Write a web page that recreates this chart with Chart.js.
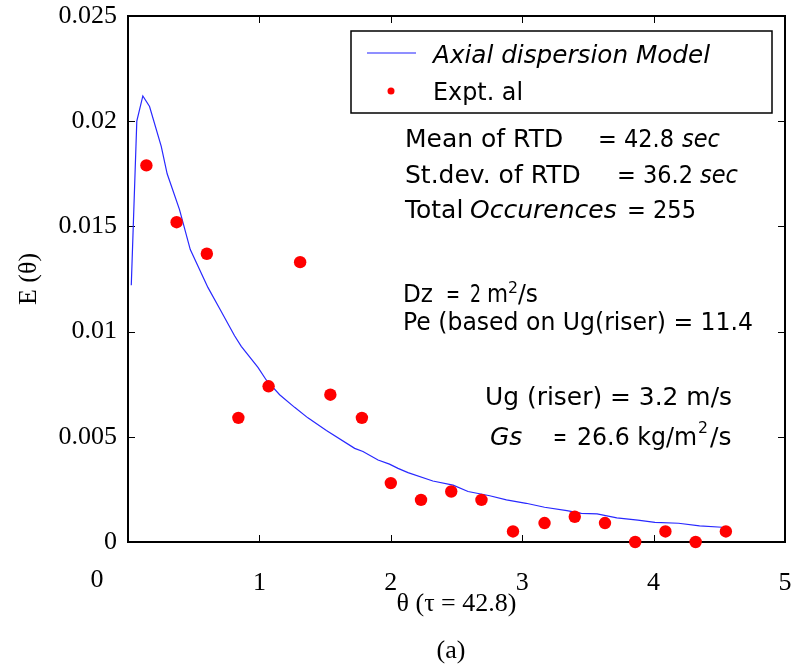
<!DOCTYPE html>
<html>
<head>
<meta charset="utf-8">
<script src="https://cdn.jsdelivr.net/npm/chart.js@4.4.1/dist/chart.umd.min.js"></script>
<style>
  html, body { margin: 0; padding: 0; background: #fff; }
  #wrap { width: 796px; height: 669px; }
</style>
</head>
<body>
<div id="wrap"><canvas id="c" width="796" height="669"></canvas></div>
<script>
// Axial dispersion model curve, E(theta)
const modelTheta = [0.025, 0.067, 0.113, 0.164, 0.253, 0.298, 0.392, 0.474, 0.608, 0.697, 0.811, 0.862,
  0.989, 1.052, 1.154, 1.268, 1.369, 1.51, 1.725, 1.788, 1.903, 1.99, 2.055, 2.131, 2.32, 2.474,
  2.588, 2.753, 2.88, 3.03, 3.17, 3.34, 3.45, 3.57, 3.72, 3.88, 4.01, 4.19, 4.35, 4.52];
const modelE = [0.0122, 0.0200, 0.0212, 0.0207, 0.0188, 0.0175, 0.0158, 0.0139, 0.0121, 0.0111, 0.0098, 0.0093,
  0.0083, 0.0077, 0.0070, 0.0064, 0.0059, 0.0053, 0.00445, 0.0043, 0.0039, 0.0037, 0.0035, 0.0033, 0.0029, 0.0027,
  0.0024, 0.0022, 0.0020, 0.00184, 0.00165, 0.00149, 0.00136, 0.00134, 0.00115, 0.00104, 0.00093, 0.00089, 0.00077, 0.0007];

// Experimental RTD points
const exptTheta = [0.14, 0.37, 0.60, 0.84, 1.07, 1.31, 1.54, 1.78, 2.00, 2.23, 2.46, 2.69, 2.93, 3.17, 3.40, 3.63, 3.86, 4.09, 4.32, 4.55];
const exptE = [0.0179, 0.0152, 0.0137, 0.0059, 0.0074, 0.0133, 0.0070, 0.0059, 0.0028, 0.0020, 0.0024, 0.0020,
  0.0005, 0.0009, 0.0012, 0.0009, 0.0000, 0.0005, 0.0000, 0.0005];

const xTickLabels = ['0', '1', '2', '3', '4', '5'];
const yTickLabels = ['0', '0.005', '0.01', '0.015', '0.02', '0.025'];

const seriesNames = ['Axial dispersion Model', 'Expt. al'];

const SERIF = '"Liberation Serif", "Times New Roman", serif';
const SANS = '"DejaVu Sans", sans-serif';

function seg(ctx, text, x, y, maxW, opt = {}) {
  ctx.font = (opt.italic ? 'italic ' : '') + (opt.size || 25) + 'px ' + SANS;
  ctx.textAlign = 'left';
  ctx.textBaseline = 'alphabetic';
  ctx.fillStyle = '#000';
  if (maxW) ctx.fillText(text, x, y, maxW); else ctx.fillText(text, x, y);
}

const frame = {
  id: 'frame',
  beforeDatasetsDraw(chart) {
    const { ctx, chartArea: a, scales: { x, y } } = chart;
    ctx.save();
    ctx.strokeStyle = '#000';
    ctx.lineWidth = 1;
    ctx.beginPath();
    [1, 2, 3, 4].forEach(v => {
      const px = Math.round(x.getPixelForValue(v)) + 0.5;
      ctx.moveTo(px, a.bottom); ctx.lineTo(px, a.bottom - 7);
      ctx.moveTo(px, a.top); ctx.lineTo(px, a.top + 7);
    });
    [0.005, 0.01, 0.015, 0.02].forEach(v => {
      const py = Math.round(y.getPixelForValue(v)) + 0.5;
      ctx.moveTo(a.left, py); ctx.lineTo(a.left + 7, py);
      ctx.moveTo(a.right, py); ctx.lineTo(a.right - 7, py);
    });
    ctx.stroke();
    ctx.lineWidth = 2;
    ctx.strokeRect(a.left, a.top, a.right - a.left, a.bottom - a.top);
    ctx.restore();
  },
  afterDraw(chart) {
    const { ctx, scales: { x } } = chart;
    ctx.save();
    // x tick label at the origin
    ctx.font = '26px ' + SERIF;
    ctx.fillStyle = '#000';
    ctx.textAlign = 'center';
    ctx.textBaseline = 'middle';
    ctx.fillText(xTickLabels[0], x.getPixelForValue(0) - 31, 580);
    // panel caption
    ctx.fillText('(a)', 451, 651);

    // legend box
    ctx.lineWidth = 1.5;
    ctx.strokeStyle = '#000';
    ctx.strokeRect(351, 31, 421, 82);
    ctx.strokeStyle = '#6a6aff';
    ctx.lineWidth = 1.5;
    ctx.beginPath(); ctx.moveTo(367, 53); ctx.lineTo(416, 53); ctx.stroke();
    ctx.fillStyle = '#ff0000';
    ctx.beginPath(); ctx.arc(391, 91, 3.5, 0, Math.PI * 2); ctx.fill();
    seg(ctx, seriesNames[0], 433, 63, 277, { italic: true });
    seg(ctx, seriesNames[1], 433, 100, 90);

    // run statistics
    seg(ctx, 'Mean of RTD', 405, 147, 159);
    seg(ctx, '= 42.8', 598, 147, 76);
    seg(ctx, 'sec', 682, 147, 38, { italic: true });
    seg(ctx, 'St.dev. of RTD', 405, 183, 176);
    seg(ctx, '= 36.2', 617, 183, 76);
    seg(ctx, 'sec', 700, 183, 38, { italic: true });
    seg(ctx, 'Total', 405, 218, 60);
    seg(ctx, 'Occurences', 470, 218, 148, { italic: true });
    seg(ctx, '= 255', 627, 218, 69);

    // model parameters
    seg(ctx, 'Dz', 403, 302, 30);
    seg(ctx, '=', 446, 302, 14);
    seg(ctx, '2', 470, 302, 11);
    seg(ctx, 'm', 487, 302, 21);
    seg(ctx, '2', 508, 293, 10, { size: 16 });
    seg(ctx, '/s', 518, 302, 20);
    seg(ctx, 'Pe (based on Ug(riser) = 11.4', 403, 330, 350);

    seg(ctx, 'Ug (riser) = 3.2 m/s', 485, 405, 247);
    seg(ctx, 'Gs', 490, 445, 33, { italic: true });
    seg(ctx, '=', 553, 445, 14);
    seg(ctx, '26.6 kg/m', 577, 445, 120);
    seg(ctx, '2', 698, 433, 10, { size: 16 });
    seg(ctx, '/s', 710, 445, 28);
    ctx.restore();
  }
};

new Chart(document.getElementById('c'), {
  type: 'scatter',
  data: {
    datasets: [
      {
        label: seriesNames[0],
        data: modelTheta.map((t, i) => ({ x: t, y: modelE[i] })),
        showLine: true,
        borderColor: 'rgb(40,40,255)',
        borderWidth: 1.2,
        pointRadius: 0,
        tension: 0,
        clip: false,
        order: 2
      },
      {
        label: seriesNames[1],
        data: exptTheta.map((t, i) => ({ x: t, y: exptE[i] })),
        showLine: false,
        backgroundColor: '#ff0000',
        borderWidth: 0,
        pointRadius: 6.2,
        pointHoverRadius: 6.2,
        clip: false,
        order: 1
      }
    ]
  },
  options: {
    responsive: false,
    animation: false,
    devicePixelRatio: 1,
    layout: { padding: { left: 0, right: 11, top: 16, bottom: 0 } },
    plugins: { legend: { display: false }, tooltip: { enabled: false } },
    scales: {
      x: {
        type: 'linear', min: 0, max: 5,
        grid: { display: false, drawTicks: false },
        border: { display: false },
        afterFit(s) { s.height = 127; s.paddingLeft = 0; s.paddingRight = 0; },
        ticks: {
          stepSize: 1, padding: 26, color: '#000', maxRotation: 0,
          font: { family: SERIF, size: 26 },
          callback: v => (v === 0 ? '' : xTickLabels[Math.round(v)])
        },
        title: {
          display: true, text: 'θ (τ = 42.8)', color: '#000',
          font: { family: SERIF, size: 26 }, padding: { top: 0, bottom: 49 }
        }
      },
      y: {
        type: 'linear', min: 0, max: 0.025,
        grid: { display: false, drawTicks: false },
        border: { display: false },
        afterFit(s) { s.width = 128; s.paddingTop = 0; s.paddingBottom = 0; },
        ticks: {
          stepSize: 0.005, padding: 11, color: '#000',
          font: { family: SERIF, size: 26 },
          callback: v => yTickLabels[Math.round(v * 200)]
        },
        title: {
          display: true, text: 'E (θ)', color: '#000',
          font: { family: SERIF, size: 26 }, padding: { top: 14, bottom: 0 }
        }
      }
    }
  },
  plugins: [frame]
});
</script>
</body>
</html>
